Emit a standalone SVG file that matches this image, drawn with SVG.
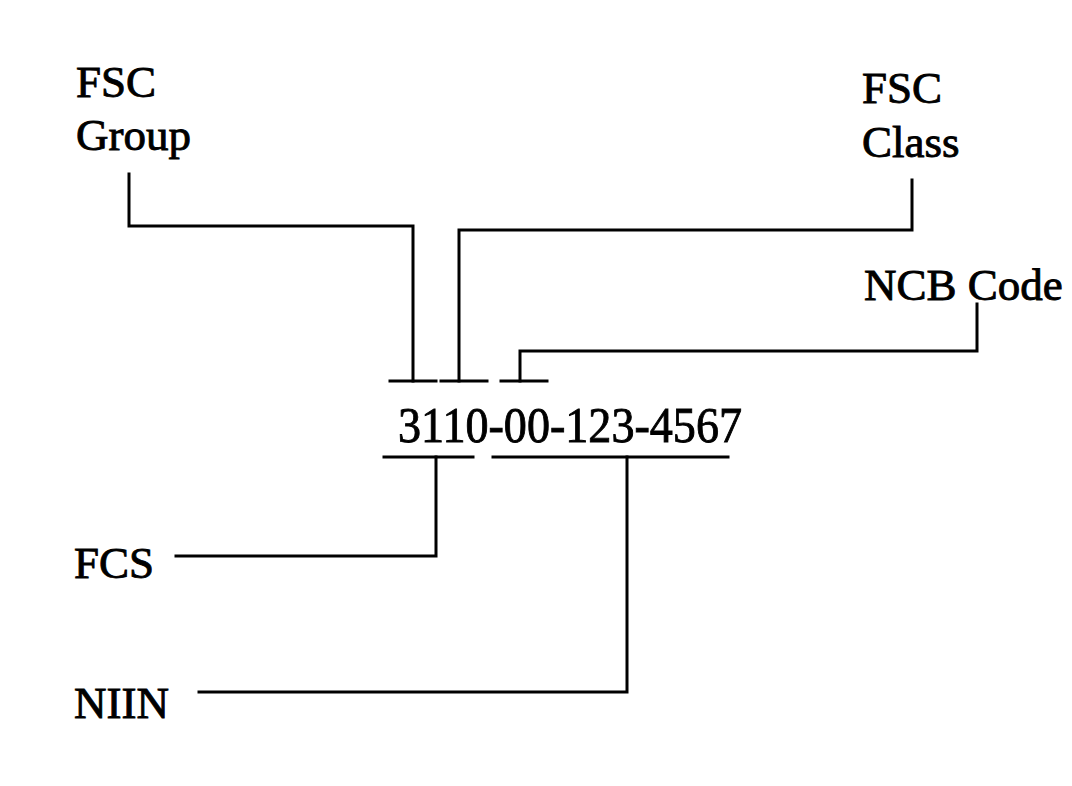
<svg xmlns="http://www.w3.org/2000/svg" width="1072" height="786" viewBox="0 0 1072 786">
<style>
.lbl{font-family:"Liberation Serif","Times New Roman",serif;font-size:45px;fill:#000;stroke:#000;stroke-width:0.9}
.num{font-family:"Liberation Serif","Times New Roman",serif;font-size:50px;fill:#000;stroke:#000;stroke-width:0.9}
.ln{fill:none;stroke:#000;stroke-width:3;stroke-linejoin:miter;stroke-linecap:square}
</style>
<rect width="1072" height="786" fill="#fff"/>
<g id="connectors">
<path class="ln" d="M129 174 V226 H413 V381"/>
<path class="ln" d="M912 180 V230 H459 V381"/>
<path class="ln" d="M977 304 V351 H520 V381"/>
<path class="ln" d="M390 381 H436"/>
<path class="ln" d="M441 381 H487"/>
<path class="ln" d="M501 381 H547"/>
<path class="ln" d="M384 457 H473"/>
<path class="ln" d="M493 457 H728"/>
<path class="ln" d="M436 457 V556 H176"/>
<path class="ln" d="M627 457 V692 H199"/>
</g>
<g id="fsc-group"><text class="lbl" x="76" y="97">FSC</text><text class="lbl" x="76" y="150">Group</text></g>
<g id="fsc-class"><text class="lbl" x="862" y="103">FSC</text><text class="lbl" x="862" y="157">Class</text></g>
<g id="ncb-code"><text class="lbl" x="864" y="300">NCB Code</text></g>
<g id="number"><text class="num" x="398" y="442" textLength="344" lengthAdjust="spacingAndGlyphs">3110-00-123-4567</text></g>
<g id="fcs"><text class="lbl" x="74" y="578">FCS</text></g>
<g id="niin"><text class="lbl" x="74" y="718">NIIN</text></g>
</svg>
